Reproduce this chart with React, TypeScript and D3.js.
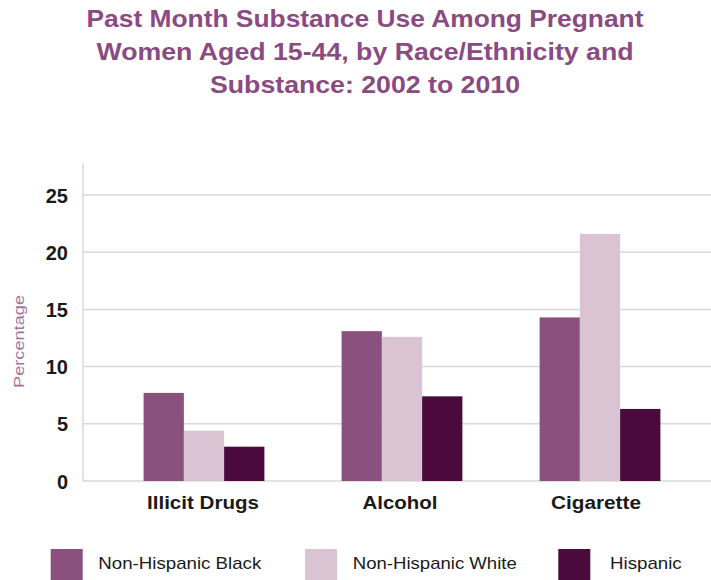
import React from "react";
import * as d3 from "d3";

const titleLines = [
  "Past Month Substance Use Among Pregnant",
  "Women Aged 15-44, by Race/Ethnicity and",
  "Substance: 2002 to 2010",
];
const categories = ["Illicit Drugs", "Alcohol", "Cigarette"];
const seriesNames = ["Non-Hispanic Black", "Non-Hispanic White", "Hispanic"];
const nonHispanicBlack = [7.7, 13.1, 14.3];
const nonHispanicWhite = [4.4, 12.6, 21.6];
const hispanic = [3.0, 7.4, 6.3];
const yTicks = [0, 5, 10, 15, 20, 25];
const seriesColors = ["#8a507e", "#dac3d3", "#4a0a3b"];

const W = 711;
const H = 580;
const FONT = "'Liberation Sans', Arial, Helvetica, sans-serif";

export default function App() {
  const series = [nonHispanicBlack, nonHispanicWhite, hispanic];
  const y = d3.scaleLinear().domain([0, 25]).range([481, 195]);
  const x = d3
    .scaleBand<string>()
    .domain(categories)
    .range([104, 700])
    .paddingInner(0.39)
    .paddingOuter(0.2);
  const xs = d3
    .scaleBand<string>()
    .domain(seriesNames)
    .range([0, x.bandwidth()])
    .padding(0);

  const axisX = 83;
  const axisTop = y(27.8);
  const titleWidths = [557, 537, 310];
  const catWidths = [112, 75, 90];
  const legendX = [50.7, 305, 558.3];
  const legendTextX = [98.3, 352.8, 610];
  const legendTextW = [163, 164, 71.7];

  return (
    <svg
      width={W}
      height={H}
      viewBox={`0 0 ${W} ${H}`}
      style={{ position: "absolute", left: 0, top: 0, background: "#fff" }}
      fontFamily={FONT}
    >
      <rect x={0} y={0} width={W} height={H} fill="#fff" />
      {titleLines.map((t, i) => (
        <text
          key={t}
          x={365}
          y={27 + i * 33}
          textAnchor="middle"
          fontSize={24}
          fontWeight="bold"
          fill="#8a4a82"
          textLength={titleWidths[i]}
          lengthAdjust="spacingAndGlyphs"
        >
          {t}
        </text>
      ))}

      {/* gridlines */}
      {yTicks.map((t) => (
        <line
          key={t}
          x1={axisX}
          x2={W}
          y1={y(t)}
          y2={y(t)}
          stroke="#d9d9d9"
          strokeWidth={1.5}
        />
      ))}
      <line x1={axisX} x2={axisX} y1={axisTop} y2={y(0)} stroke="#d9d9d9" strokeWidth={1.5} />

      {/* y tick labels */}
      {yTicks.map((t) => (
        <text
          key={t}
          x={68}
          y={y(t) + 7.5}
          textAnchor="end"
          fontSize={20}
          fontWeight="bold"
          fill="#1a1a1a"
        >
          {t}
        </text>
      ))}

      <text
        transform={`translate(24,341.5) rotate(-90)`}
        textAnchor="middle"
        fontSize={15}
        fill="#a3729c"
        textLength={93}
        lengthAdjust="spacingAndGlyphs"
      >
        Percentage
      </text>

      {/* bars */}
      {categories.map((c, ci) => (
        <g key={c} transform={`translate(${x(c)},0)`}>
          {seriesNames.map((s, si) => (
            <rect
              key={s}
              x={xs(s)}
              y={y(series[si][ci])}
              width={xs.bandwidth()}
              height={y(0) - y(series[si][ci])}
              fill={seriesColors[si]}
            />
          ))}
        </g>
      ))}

      {/* category labels */}
      {categories.map((c, ci) => (
        <text
          key={c}
          x={(x(c) as number) + x.bandwidth() / 2 - (ci === 2 ? 4 : ci === 1 ? 2 : 1)}
          y={509}
          textAnchor="middle"
          fontSize={18}
          fontWeight="bold"
          fill="#1a1a1a"
          textLength={catWidths[ci]}
          lengthAdjust="spacingAndGlyphs"
        >
          {c}
        </text>
      ))}

      {/* legend */}
      {seriesNames.map((s, si) => (
        <g key={s}>
          <rect x={legendX[si]} y={549} width={32} height={32} fill={seriesColors[si]} />
          <text
            x={legendTextX[si]}
            y={569}
            fontSize={17}
            fill="#1a1a1a"
            textLength={legendTextW[si]}
            lengthAdjust="spacingAndGlyphs"
          >
            {s}
          </text>
        </g>
      ))}
    </svg>
  );
}
